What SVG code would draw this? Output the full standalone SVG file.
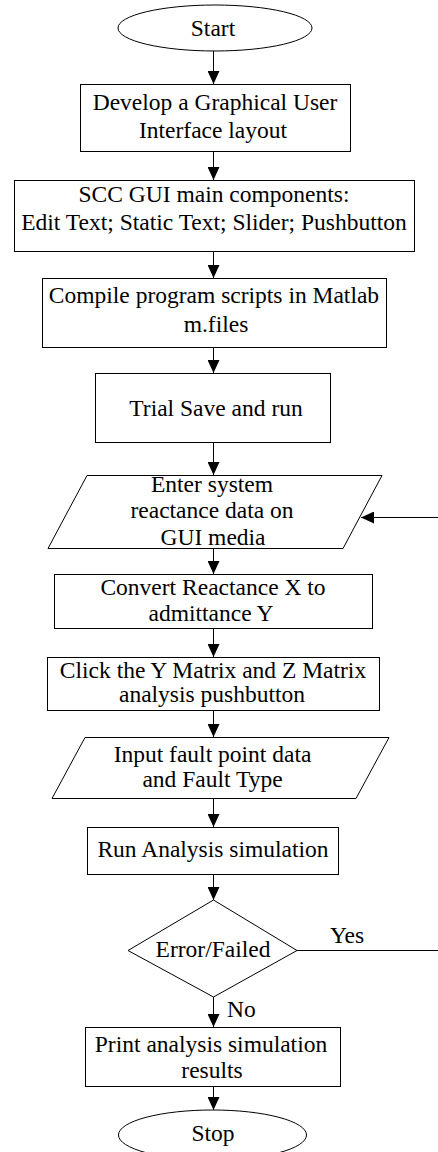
<svg xmlns="http://www.w3.org/2000/svg" width="438" height="1152" viewBox="0 0 438 1152">
  <style>
    .shape { fill: #fff; stroke: #000; stroke-width: 1; }
    .edge { fill: none; stroke: #000; stroke-width: 1; }
    text { font-family: "Liberation Serif", "Times New Roman", serif; font-size: 23.5px; fill: #000; text-anchor: middle; }
    .lbl { text-anchor: start; }
  </style>
  <defs>
    <marker id="arrow" markerUnits="userSpaceOnUse" markerWidth="13" markerHeight="12" refX="13" refY="6" orient="auto">
      <path d="M0,0 L13,6 L0,12 Z" fill="#000"/>
    </marker>
  </defs>

  <!-- flow connectors -->
  <g id="connectors">
    <path class="edge" d="M213.5,51 V84" marker-end="url(#arrow)"/>
    <path class="edge" d="M213.5,152 V180" marker-end="url(#arrow)"/>
    <path class="edge" d="M213.5,252 V278" marker-end="url(#arrow)"/>
    <path class="edge" d="M213.5,348 V373" marker-end="url(#arrow)"/>
    <path class="edge" d="M213.5,443 V475" marker-end="url(#arrow)"/>
    <path class="edge" d="M213.5,548 V574" marker-end="url(#arrow)"/>
    <path class="edge" d="M213.5,628 V657" marker-end="url(#arrow)"/>
    <path class="edge" d="M213.5,711 V737" marker-end="url(#arrow)"/>
    <path class="edge" d="M213.5,798 V827" marker-end="url(#arrow)"/>
    <path class="edge" d="M213.5,874 V900" marker-end="url(#arrow)"/>
    <path class="edge" d="M213.5,997 V1027" marker-end="url(#arrow)"/>
    <path class="edge" d="M213.5,1087 V1110" marker-end="url(#arrow)"/>
    <!-- "Yes" branch leaving the decision -->
    <path class="edge" d="M297,950.5 H438"/>
    <!-- loop back into the data entry step -->
    <path class="edge" d="M438,517.5 H361" marker-end="url(#arrow)"/>
    <text class="lbl" x="330" y="943">Yes</text>
    <text class="lbl" x="227" y="1017">No</text>
  </g>

  <g id="start">
    <ellipse class="shape" cx="215" cy="28" rx="97" ry="23"/>
    <text x="213" y="36">Start</text>
  </g>

  <g id="develop-gui">
    <rect class="shape" x="80.5" y="84.5" width="270" height="67"/>
    <text x="215" y="110">Develop a Graphical User</text>
    <text x="213" y="138">Interface layout</text>
  </g>

  <g id="gui-components">
    <rect class="shape" x="14.5" y="180.5" width="400" height="71"/>
    <text x="214" y="202">SCC GUI main components:</text>
    <text x="214" y="230">Edit Text; Static Text; Slider; Pushbutton</text>
  </g>

  <g id="compile-scripts">
    <rect class="shape" x="42.5" y="278.5" width="344" height="69"/>
    <text x="214" y="303">Compile program scripts in Matlab</text>
    <text x="216" y="332">m.files</text>
  </g>

  <g id="trial-run">
    <rect class="shape" x="95.5" y="373.5" width="235" height="69"/>
    <text x="216" y="416">Trial Save and run</text>
  </g>

  <g id="enter-reactance">
    <polygon class="shape" points="87,475.5 382,475.5 343,548.5 48,548.5"/>
    <text x="212" y="492">Enter system</text>
    <text x="212" y="518">reactance data on</text>
    <text x="213" y="545">GUI media</text>
  </g>

  <g id="convert-admittance">
    <rect class="shape" x="54.5" y="574.5" width="318" height="54"/>
    <text x="213" y="595">Convert Reactance X to</text>
    <text x="211" y="621">admittance Y</text>
  </g>

  <g id="matrix-analysis">
    <rect class="shape" x="47.5" y="657.5" width="332" height="53"/>
    <text x="213" y="678">Click the Y Matrix and Z Matrix</text>
    <text x="212" y="702">analysis pushbutton</text>
  </g>

  <g id="fault-input">
    <polygon class="shape" points="85,737.5 389,737.5 356,798.5 52,798.5"/>
    <text x="212.5" y="762">Input fault point data</text>
    <text x="212.5" y="787">and Fault Type</text>
  </g>

  <g id="run-simulation">
    <rect class="shape" x="87.5" y="827.5" width="251" height="47"/>
    <text x="213" y="857">Run Analysis simulation</text>
  </g>

  <g id="error-check">
    <polygon class="shape" points="213.5,900 297,950.5 213.5,997 128,950.5"/>
    <text x="213" y="957">Error/Failed</text>
  </g>

  <g id="print-results">
    <rect class="shape" x="85.5" y="1027.5" width="255" height="59"/>
    <text x="211" y="1052">Print analysis simulation</text>
    <text x="212" y="1078">results</text>
  </g>

  <g id="stop">
    <ellipse class="shape" cx="212.5" cy="1135" rx="94" ry="25"/>
    <text x="213" y="1141">Stop</text>
  </g>
</svg>
